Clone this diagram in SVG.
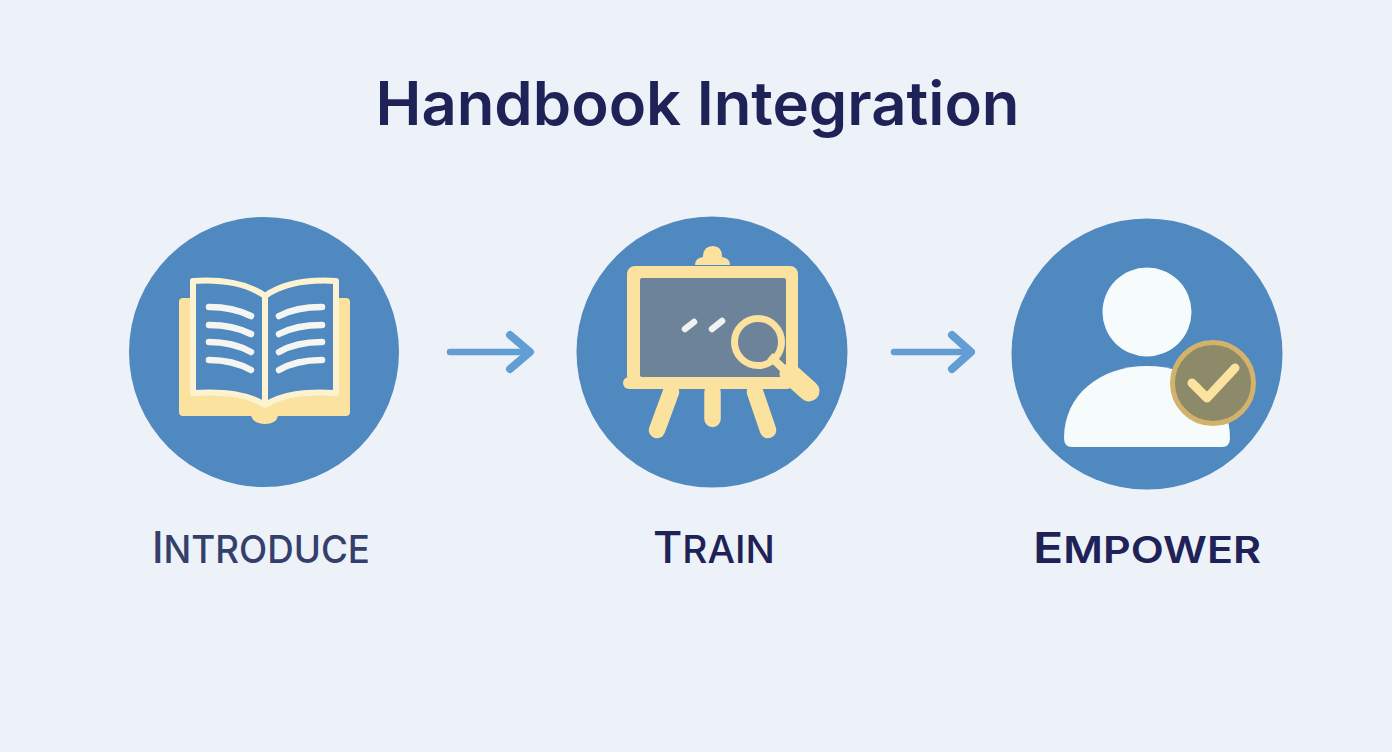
<svg xmlns="http://www.w3.org/2000/svg" width="1392" height="752" viewBox="0 0 1392 752">
<style>
.disc{fill:#5088c0}
.t{font-family:Inter,"Liberation Sans",sans-serif;text-anchor:middle}
.cream{fill:#fbe29e}
.white{fill:#f6fbfc}
.pg{fill:#5088c0;stroke:#fdf3d0;stroke-width:6;stroke-linejoin:round}
.ln{fill:none;stroke:#f5f6f2;stroke-width:6.5;stroke-linecap:round}
.arrow{fill:none;stroke:#629ed4;stroke-linecap:round;stroke-linejoin:round}
.leg{fill:none;stroke:#fbe29e;stroke-width:16.5;stroke-linecap:round}
</style>
<rect width="1392" height="752" fill="#ecf2f7"/>
<text id="title" class="t" x="697.5" y="125" font-size="60.5" font-weight="600" fill="#1e2257" textLength="644" lengthAdjust="spacingAndGlyphs">Handbook Integration</text>
<g id="connectors">
<path class="arrow" stroke-width="6.5" d="M450 352H528"/>
<path class="arrow" stroke-width="8" d="M510 335L530 352L510 369"/>
<path class="arrow" stroke-width="6.5" d="M894 352H968"/>
<path class="arrow" stroke-width="8" d="M952 335L971 352L952 369"/>
</g>
<g id="introduce">
<circle class="disc" cx="264" cy="352" r="135"/>
<path class="cream" d="M183 298H192V392H336V298H346Q350 298 350 302V412Q350 416 346 416H278Q276 424 265 424Q254 424 251 416H183Q179 416 179 412V302Q179 298 183 298Z"/>
<path class="pg" d="M193 281C225 279 248 284 265 296C282 284 305 279 336 281V393C305 391 283 394 265 405C247 394 225 391 193 393Z"/>
<path d="M265 296V405" stroke="#fdf3d0" stroke-width="6" fill="none"/>
<path class="ln" d="M209 307Q233 307 251 316M209 325Q233 325 251 334M209 342Q233 342 251 352M209 360Q233 360 251 370"/>
<path class="ln" d="M322 307Q296 307 279 316M322 325Q296 325 279 334M322 342Q296 342 279 352M322 360Q296 360 279 370"/>
</g>
<g id="train">
<circle class="disc" cx="712" cy="352" r="135.5"/>
<path class="cream" d="M695 265Q695 258 703 257Q703 246 713 246Q722 246 722 257Q730 258 730 265Z"/>
<rect x="627" y="266" width="171" height="118" rx="8" class="cream"/>
<rect x="640" y="278" width="146" height="99" rx="2" fill="#6c8399"/>
<rect x="623" y="377" width="170" height="12" rx="6" class="cream"/>
<path class="leg" d="M671 392L657 430M712.500 392V419M755 392L768 430"/>
<path d="M685 329L694 322M712 329L722 321" fill="none" stroke="#f0f2f0" stroke-width="6.5" stroke-linecap="round"/>
<circle cx="758" cy="342" r="23.500" fill="#6c8399" stroke="#fbe29e" stroke-width="7"/>
<path d="M770 356L790 375" stroke="#fbe29e" stroke-width="8" fill="none"/>
<path d="M790 374L809 391" stroke="#fbe29e" stroke-width="21" stroke-linecap="round" fill="none"/>
</g>
<g id="empower">
<circle class="disc" cx="1147" cy="354" r="135.5"/>
<circle class="white" cx="1147" cy="312" r="44.5"/>
<path class="white" d="M1072 447Q1064 447 1064 438C1064 395 1100 366 1147 366C1194 366 1230 395 1230 438Q1230 447 1222 447Z"/>
<circle cx="1213" cy="383" r="40.500" fill="#8c8a68" stroke="#d3b26c" stroke-width="5"/>
<path d="M1192 383L1207 398L1235 368" fill="none" stroke="#fbe29e" stroke-width="9" stroke-linecap="round" stroke-linejoin="round"/>
</g>
<text id="l1" class="t" x="261" y="563" font-size="38" font-weight="500" fill="#34406b" textLength="218" lengthAdjust="spacingAndGlyphs"><tspan font-size="44">I</tspan>NTRODUCE</text>
<text id="l2" class="t" x="714" y="563" font-size="38" font-weight="500" fill="#1e2257" textLength="122" lengthAdjust="spacingAndGlyphs"><tspan font-size="44">T</tspan>RAIN</text>
<text id="l3" class="t" x="1147" y="563" font-size="37" font-weight="600" fill="#1e2257" textLength="228" lengthAdjust="spacingAndGlyphs"><tspan font-size="43">E</tspan>MPOWER</text>
</svg>
